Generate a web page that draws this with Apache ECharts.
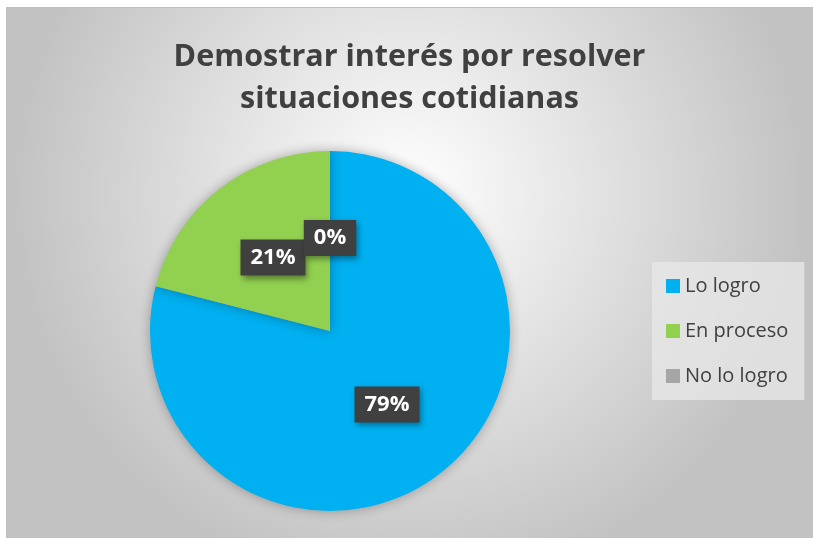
<!DOCTYPE html>
<html>
<head>
<meta charset="utf-8">
<script src="https://cdn.jsdelivr.net/npm/echarts@6/dist/echarts.min.js"></script>
<style>
  html, body { margin: 0; padding: 0; background: #ffffff; }
  #chart {
    position: absolute;
    left: 6px;
    top: 7px;
    width: 807px;
    height: 530px;
    border-top: 1px solid #bfbfbf;
  }
</style>
</head>
<body>
<div id="chart"></div>
<script>
const titleText = 'Demostrar interés por resolver\nsituaciones cotidianas'
const categories = ['Lo logro', 'En proceso', 'No lo logro']
const values = [79, 21, 0]
const colors = ['#00b0f0', '#92d050', '#a5a5a5']

const myChart = echarts.init(document.getElementById('chart'))

const option = {
  backgroundColor: {
    type: 'radial',
    x: 0.5,
    y: 0.35,
    r: 0.75,
    colorStops: [
      { offset: 0, color: '#ffffff' },
      { offset: 1, color: '#c2c2c2' }
    ]
  },
  title: {
    text: titleText,
    left: 'center',
    top: 23,
    textStyle: {
      fontFamily: 'Open Sans',
      fontWeight: 'bold',
      fontSize: 30.5,
      lineHeight: 42,
      color: '#404040'
    }
  },
  legend: {
    orient: 'vertical',
    left: 646,
    top: 254,
    padding: [14, 16, 14, 14],
    itemGap: 25,
    itemWidth: 14,
    itemHeight: 14,
    icon: 'rect',
    backgroundColor: 'rgba(232,232,232,0.75)',
    data: categories,
    textStyle: {
      fontFamily: 'Open Sans',
      fontSize: 20,
      color: '#404040'
    }
  },
  series: [
    {
      type: 'pie',
      center: [324, 323],
      radius: [0, 180],
      startAngle: 90,
      clockwise: true,
      avoidLabelOverlap: false,
      silent: true,
      labelLayout: { hideOverlap: false },
      itemStyle: {
        shadowBlur: 12,
        shadowColor: 'rgba(0,0,0,0.3)'
      },
      label: {
        show: true,
        position: 'inside',
        formatter: p => p.value + '%',
        fontFamily: 'Open Sans',
        fontWeight: 'bold',
        fontSize: 22,
        color: '#ffffff',
        backgroundColor: '#404040',
        padding: [8, 10, 6, 10],
        shadowBlur: 6,
        shadowOffsetX: 2,
        shadowOffsetY: 3,
        shadowColor: 'rgba(0,0,0,0.4)'
      },
      labelLine: { show: false },
      data: categories.map((name, i) => ({
        name: name,
        value: values[i],
        itemStyle: { color: colors[i] }
      }))
    }
  ]
}

myChart.setOption(option)
</script>
</body>
</html>
